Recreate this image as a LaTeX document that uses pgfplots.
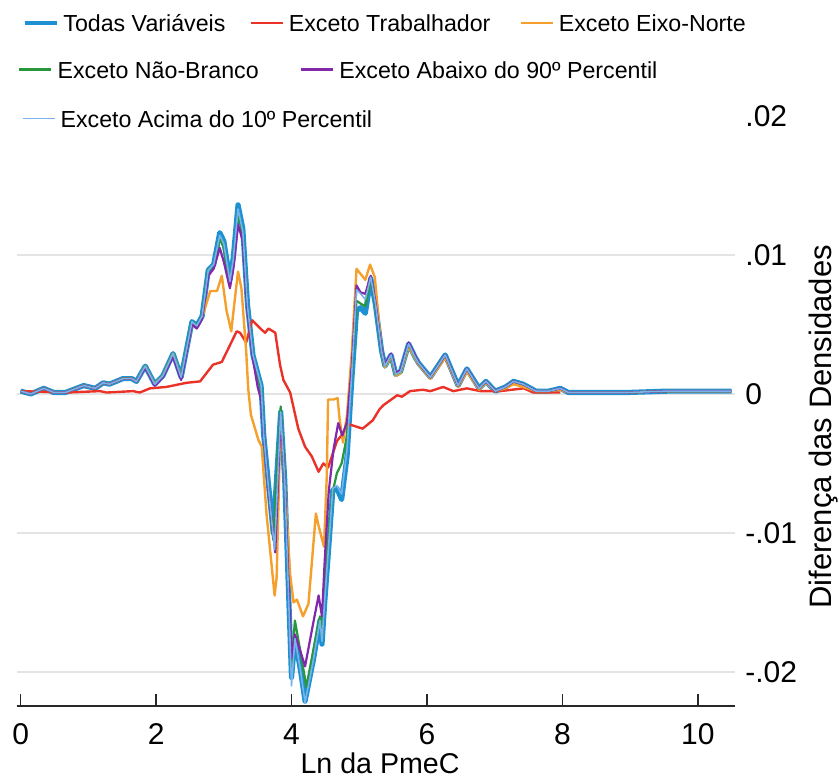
\documentclass[border=0pt]{standalone}
\usepackage{fontspec}
\setmainfont{Liberation Sans}
\usepackage{pgfplots}
\usepackage{pgfplotstable}
\pgfplotsset{compat=1.18}
\definecolor{cblue}{RGB}{30,145,210}
\definecolor{cred}{RGB}{235,50,40}
\definecolor{corange}{RGB}{245,160,45}
\definecolor{cgreen}{RGB}{40,150,60}
\definecolor{cpurple}{RGB}{130,40,170}
\definecolor{clblue}{RGB}{120,180,235}
\definecolor{axisgray}{RGB}{40,40,40}
\definecolor{gridgray}{RGB}{228,228,228}

\pgfplotstableread{
x y
0.00 0.0002
0.15 0.0000
0.34 0.0004
0.49 0.0001
0.66 0.0001
0.93 0.0006
1.10 0.0004
1.22 0.0008
1.31 0.0007
1.51 0.0011
1.64 0.0011
1.71 0.0009
1.84 0.0020
1.98 0.0007
2.10 0.0013
2.25 0.0029
2.37 0.0012
2.53 0.0052
2.60 0.0049
2.68 0.0056
2.77 0.0089
2.85 0.0093
2.94 0.0116
3.00 0.0110
3.09 0.0082
3.14 0.0098
3.21 0.0136
3.28 0.0119
3.35 0.0064
3.43 0.0028
3.50 0.0015
3.55 0.0006
3.59 -0.0030
3.66 -0.0065
3.73 -0.0100
3.84 -0.0013
3.90 -0.0062
3.95 -0.0134
4.00 -0.0204
4.05 -0.0176
4.13 -0.0198
4.20 -0.0221
4.32 -0.0192
4.42 -0.0163
4.45 -0.0180
4.49 -0.0150
4.55 -0.0110
4.61 -0.0069
4.67 -0.0068
4.74 -0.0076
4.82 -0.0045
4.89 0.0010
4.96 0.0060
5.02 0.0062
5.09 0.0058
5.17 0.0083
5.24 0.0064
5.33 0.0031
5.38 0.0020
5.47 0.0028
5.54 0.0014
5.61 0.0016
5.73 0.0036
5.83 0.0026
5.88 0.0022
6.05 0.0012
6.27 0.0028
6.46 0.0006
6.59 0.0018
6.77 0.0004
6.87 0.0009
7.01 0.0002
7.16 0.0005
7.28 0.0009
7.42 0.0007
7.61 0.0002
7.80 0.0002
7.97 0.0004
8.09 0.0001
8.53 0.0001
8.95 0.0001
9.55 0.0002
10.05 0.0002
10.50 0.0002
}\tblue

\pgfplotstableread{
x y
0.00 0.0002
0.68 0.0001
1.17 0.0002
1.27 0.0001
1.66 0.0002
1.76 0.0001
1.91 0.0004
2.15 0.0005
2.45 0.0008
2.65 0.0009
2.84 0.0021
2.97 0.0023
3.09 0.0035
3.19 0.0045
3.24 0.0044
3.33 0.0037
3.42 0.0053
3.54 0.0047
3.61 0.0044
3.66 0.0047
3.76 0.0044
3.83 0.0021
3.88 0.0010
3.98 0.0001
4.10 -0.0025
4.20 -0.0038
4.30 -0.0045
4.40 -0.0056
4.47 -0.0050
4.54 -0.0053
4.67 -0.0034
4.86 -0.0022
5.05 -0.0025
5.20 -0.0019
5.30 -0.0011
5.36 -0.0008
5.56 -0.0001
5.63 -0.0002
5.75 0.0002
5.94 0.0003
6.05 0.0002
6.24 0.0005
6.39 0.0002
6.59 0.0004
6.79 0.0002
7.08 0.0002
7.43 0.0004
7.57 0.0001
7.97 0.0001
}\tred

\pgfplotstableread{
x y
0.00 0.0002
0.15 0.0000
0.34 0.0004
0.49 0.0001
0.66 0.0001
0.93 0.0006
1.10 0.0004
1.22 0.0008
1.31 0.0007
1.51 0.0011
1.64 0.0011
1.71 0.0009
1.84 0.0020
1.98 0.0007
2.10 0.0013
2.25 0.0029
2.37 0.0012
2.53 0.0050
2.60 0.0048
2.68 0.0055
2.80 0.0074
2.90 0.0074
2.97 0.0085
3.04 0.0060
3.11 0.0045
3.16 0.0067
3.21 0.0088
3.26 0.0076
3.33 0.0031
3.36 0.0004
3.40 -0.0015
3.51 -0.0033
3.56 -0.0038
3.63 -0.0086
3.75 -0.0145
3.78 -0.0132
3.84 -0.0015
3.90 -0.0062
3.98 -0.0130
4.03 -0.0150
4.08 -0.0148
4.17 -0.0160
4.25 -0.0151
4.36 -0.0086
4.40 -0.0095
4.48 -0.0110
4.52 -0.0060
4.54 -0.0004
4.62 -0.0004
4.68 -0.0003
4.71 -0.0018
4.76 -0.0035
4.82 -0.0015
4.89 0.0030
4.96 0.0090
5.09 0.0082
5.16 0.0093
5.23 0.0084
5.33 0.0031
5.38 0.0019
5.47 0.0027
5.54 0.0013
5.61 0.0015
5.73 0.0034
5.83 0.0025
5.88 0.0021
6.05 0.0011
6.27 0.0026
6.46 0.0005
6.59 0.0016
6.77 0.0003
6.87 0.0008
7.01 0.0002
7.16 0.0004
7.28 0.0007
7.42 0.0005
7.61 0.0002
7.80 0.0002
7.97 0.0003
8.09 0.0001
8.53 0.0001
8.95 0.0001
9.55 0.0002
10.05 0.0002
10.50 0.0002
}\torange

\pgfplotstableread{
x y
0.00 0.0002
0.15 0.0000
0.34 0.0004
0.49 0.0001
0.66 0.0001
0.93 0.0006
1.10 0.0004
1.22 0.0008
1.31 0.0007
1.51 0.0011
1.64 0.0011
1.71 0.0009
1.84 0.0020
1.98 0.0007
2.10 0.0013
2.25 0.0029
2.37 0.0012
2.53 0.0052
2.60 0.0049
2.68 0.0056
2.77 0.0089
2.85 0.0092
2.94 0.0112
3.00 0.0105
3.09 0.0080
3.14 0.0095
3.21 0.0130
3.28 0.0115
3.35 0.0062
3.43 0.0027
3.50 0.0013
3.55 0.0004
3.59 -0.0030
3.66 -0.0068
3.73 -0.0105
3.84 -0.0009
3.90 -0.0060
3.95 -0.0130
4.00 -0.0195
4.05 -0.0163
4.13 -0.0185
4.22 -0.0211
4.32 -0.0185
4.42 -0.0160
4.45 -0.0175
4.49 -0.0140
4.55 -0.0100
4.61 -0.0070
4.67 -0.0057
4.74 -0.0050
4.82 -0.0030
4.89 0.0015
4.96 0.0067
5.02 0.0065
5.09 0.0063
5.17 0.0083
5.24 0.0064
5.33 0.0031
5.38 0.0020
5.47 0.0028
5.54 0.0014
5.61 0.0016
5.73 0.0036
5.83 0.0026
5.88 0.0022
6.05 0.0012
6.27 0.0028
6.46 0.0006
6.59 0.0018
6.77 0.0004
6.87 0.0009
7.01 0.0002
7.16 0.0005
7.28 0.0009
7.42 0.0007
7.61 0.0002
7.80 0.0002
7.97 0.0004
8.09 0.0001
8.53 0.0001
8.95 0.0001
9.55 0.0002
10.05 0.0002
10.50 0.0002
}\tgreen

\pgfplotstableread{
x y
0.00 0.0002
0.15 0.0000
0.34 0.0004
0.49 0.0001
0.66 0.0001
0.93 0.0006
1.10 0.0004
1.22 0.0008
1.31 0.0007
1.51 0.0011
1.64 0.0011
1.71 0.0009
1.84 0.0019
1.98 0.0006
2.10 0.0012
2.25 0.0027
2.37 0.0010
2.53 0.0050
2.60 0.0047
2.68 0.0054
2.77 0.0085
2.85 0.0090
2.94 0.0105
3.00 0.0095
3.09 0.0076
3.14 0.0090
3.21 0.0122
3.28 0.0110
3.35 0.0060
3.43 0.0025
3.50 0.0005
3.55 -0.0004
3.59 -0.0030
3.66 -0.0070
3.76 -0.0114
3.84 -0.0015
3.90 -0.0062
3.95 -0.0130
4.00 -0.0190
4.05 -0.0173
4.13 -0.0185
4.20 -0.0196
4.32 -0.0165
4.40 -0.0145
4.45 -0.0160
4.49 -0.0120
4.55 -0.0070
4.62 -0.0040
4.69 -0.0021
4.75 -0.0030
4.82 -0.0020
4.89 0.0020
4.96 0.0078
5.02 0.0073
5.09 0.0072
5.17 0.0085
5.24 0.0066
5.33 0.0032
5.38 0.0021
5.47 0.0029
5.54 0.0015
5.61 0.0017
5.73 0.0037
5.83 0.0027
5.88 0.0022
6.05 0.0012
6.27 0.0028
6.46 0.0006
6.59 0.0018
6.77 0.0004
6.87 0.0009
7.01 0.0002
7.16 0.0005
7.28 0.0009
7.42 0.0007
7.61 0.0002
7.80 0.0002
7.97 0.0004
8.09 0.0001
8.53 0.0001
8.95 0.0001
9.55 0.0002
10.05 0.0002
10.50 0.0002
}\tpurple

\pgfplotstableread{
x y
0.00 0.0002
0.15 0.0000
0.34 0.0004
0.49 0.0001
0.66 0.0001
0.93 0.0006
1.10 0.0004
1.22 0.0008
1.31 0.0007
1.51 0.0011
1.64 0.0011
1.71 0.0009
1.84 0.0020
1.98 0.0007
2.10 0.0013
2.25 0.0029
2.37 0.0012
2.53 0.0052
2.60 0.0049
2.68 0.0056
2.77 0.0089
2.85 0.0093
2.94 0.0114
3.00 0.0108
3.09 0.0081
3.14 0.0097
3.21 0.0133
3.28 0.0117
3.35 0.0063
3.43 0.0028
3.50 0.0015
3.55 0.0006
3.59 -0.0030
3.66 -0.0068
3.75 -0.0112
3.84 -0.0013
3.90 -0.0062
3.95 -0.0136
4.00 -0.0210
4.05 -0.0176
4.13 -0.0198
4.20 -0.0222
4.32 -0.0192
4.42 -0.0163
4.45 -0.0178
4.49 -0.0148
4.55 -0.0108
4.61 -0.0068
4.67 -0.0066
4.74 -0.0072
4.82 -0.0040
4.89 0.0015
4.96 0.0075
5.02 0.0072
5.09 0.0068
5.17 0.0084
5.24 0.0065
5.33 0.0031
5.38 0.0020
5.47 0.0028
5.54 0.0014
5.61 0.0016
5.73 0.0036
5.83 0.0026
5.88 0.0022
6.05 0.0012
6.27 0.0028
6.46 0.0006
6.59 0.0018
6.77 0.0004
6.87 0.0009
7.01 0.0002
7.16 0.0005
7.28 0.0009
7.42 0.0007
7.61 0.0002
7.80 0.0002
7.97 0.0004
8.09 0.0001
8.53 0.0001
8.95 0.0001
9.55 0.0002
10.05 0.0002
10.50 0.0002
}\tlblue

\pgfplotsset{
  base/.style={
    scale only axis, width=359.15pt, height=302pt,
    at={(0pt,0pt)}, anchor=south west,
    xmin=-0.059, xmax=10.55, ymin=-0.02245, ymax=0.021,
    scaled y ticks=false, scaled x ticks=false,
    legend image code/.code={\draw[##1] (0pt,4.5pt) -- (16pt,4.5pt);},
    legend style={draw=none, fill=none, inner sep=0pt, outer sep=0pt,
      anchor=south west, font=\fontsize{11.6pt}{13pt}\selectfont,
      cells={anchor=base west}, nodes={inner sep=0pt},
      row sep=0pt, column sep=0pt,
      /tikz/every odd column/.style={column sep=2.5pt}},
  }
}

\begin{document}
\begin{tikzpicture}
\useasboundingbox (-8.35pt,-36.5pt) rectangle (411.15pt,353pt);

\begin{axis}[base,
  clip=false,
  axis x line*=bottom, axis y line*=right,
  y axis line style={draw=none},
  x axis line style={line width=0.85pt, color=axisgray},
  xtick={0,2,4,6,8,10}, xticklabels={0,2,4,6,8,10},
  xtick align=inside, major tick length=6pt,
  xtick style={line width=0.75pt, color=axisgray},
  ytick={-0.02,-0.01,0,0.01}, yticklabels={-.02,-.01,0,.01},
  extra y ticks={0.02}, extra y tick labels={.02},
  extra tick style={grid=none},
  ytick align=inside, ytick style={draw=none},
  ymajorgrids, grid style={color=gridgray, line width=0.7pt},
  tick label style={font=\fontsize{15pt}{17pt}\selectfont, color=black},
  xticklabel style={anchor=north, inner sep=0pt, yshift=-8.5pt},
  yticklabel style={anchor=west, inner sep=0pt, xshift=5pt},
  xlabel={Ln da PmeC}, ylabel={Diferença das Densidades},
  every axis x label/.style={at={(axis description cs:0.5058,-0.0955)}, anchor=center,
    font=\fontsize{14.3pt}{16pt}\selectfont},
  every axis y label/.style={at={(axis description cs:1.1337,0.462)}, rotate=90, anchor=base,
    font=\fontsize{15.5pt}{17pt}\selectfont},
  legend columns=3,
  legend style={at={(axis description cs:0.00877,1.1109)},
    /tikz/column 2/.style={column sep=12pt},
    /tikz/column 4/.style={column sep=14.5pt}},
]
\addplot[cblue, line width=2.6pt, line join=round, legend image post style={line width=1.7pt}] table {\tblue};
\addlegendentry{Todas Variáveis}
\addplot[cred, line width=1.2pt, line join=round] table {\tred};
\addlegendentry{Exceto Trabalhador}
\addplot[corange, line width=1.2pt, line join=round] table {\torange};
\addlegendentry{Exceto Eixo-Norte}
\addplot[cgreen, line width=1.1pt, line join=round, forget plot] table {\tgreen};
\addplot[cpurple, line width=1.1pt, line join=round, forget plot] table {\tpurple};
\addplot[clblue, line width=0.8pt, line join=round, forget plot] table {\tlblue};
\end{axis}

\begin{axis}[base, hide axis,
  legend columns=2,
  legend style={at={(axis description cs:0.00181,1.0336)},
    /tikz/column 1/.style={column sep=3pt},
    /tikz/column 2/.style={column sep=20.5pt}},
]
\addlegendimage{cgreen, line width=1.3pt}
\addlegendentry{Exceto Não-Branco}
\addlegendimage{cpurple, line width=1.3pt}
\addlegendentry{Exceto Abaixo do 90º Percentil}
\end{axis}

\begin{axis}[base, hide axis,
  legend columns=1,
  legend style={at={(axis description cs:0.00738,0.9525)},
    /tikz/column 1/.style={column sep=1.5pt}},
]
\addlegendimage{clblue, line width=0.8pt}
\addlegendentry{Exceto Acima do 10º Percentil}
\end{axis}
\end{tikzpicture}
\end{document}
